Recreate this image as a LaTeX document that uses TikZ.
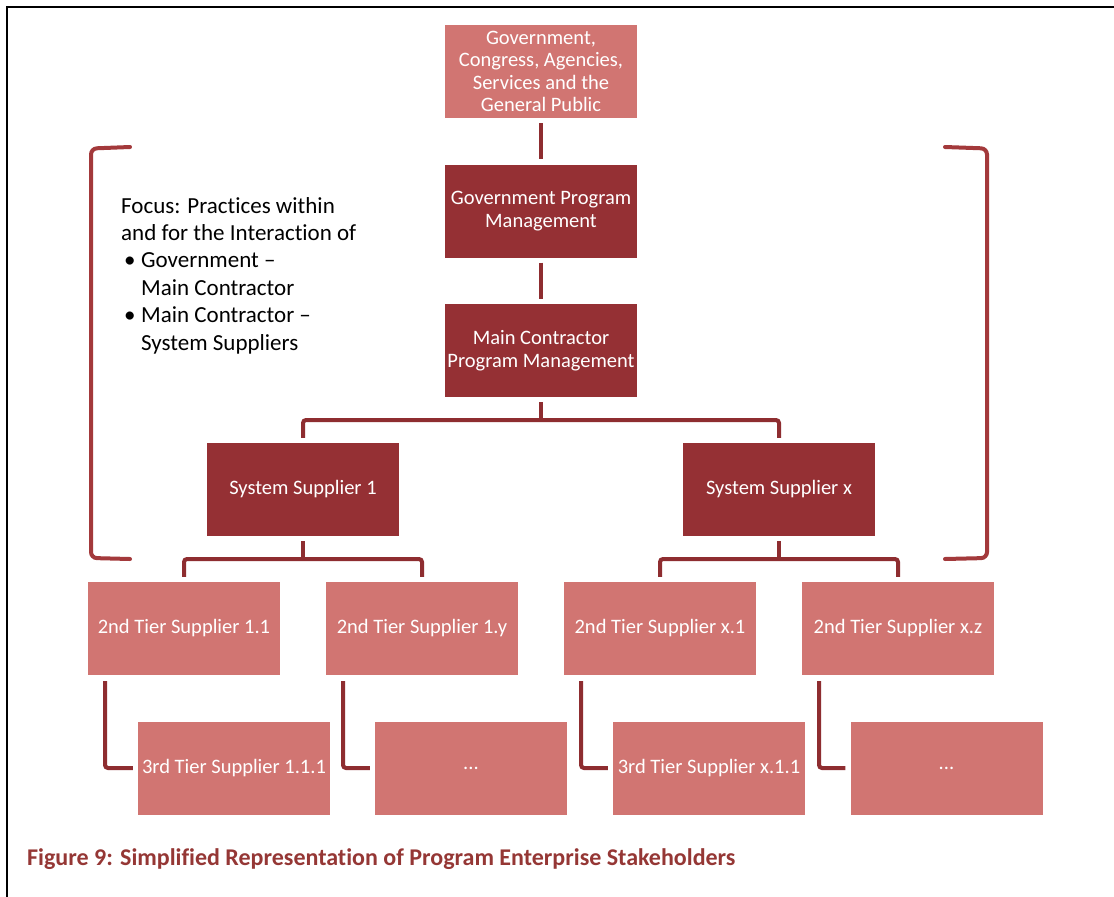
\documentclass[tikz,border=0pt]{standalone}
\usepackage{fontspec}
\setmainfont[Ligatures={NoCommon}]{Carlito}
\definecolor{lightred}{HTML}{D17572}
\definecolor{darkred}{HTML}{953034}
\definecolor{linered}{HTML}{8E2D30}
\definecolor{brackred}{HTML}{A3393B}
\definecolor{captred}{HTML}{953735}
\begin{document}
\begin{tikzpicture}[x=1pt,y=-1pt,
  box/.style={minimum width=192pt, minimum height=93pt, inner sep=0pt, text=white,
    font=\fontsize{20.5}{22.5}\selectfont, align=center},
  lbox/.style={box, fill=lightred},
  dbox/.style={box, fill=darkred},
  conn/.style={draw=linered, line width=4pt, rounded corners=3pt},
  brack/.style={draw=brackred, line width=4pt, rounded corners=6pt, line cap=round}]
\useasboundingbox (0,0) rectangle (1114,897);
\fill[white] (0,0) rectangle (1114,897);
\draw[line width=2.5pt] (7,897) -- (7,7) -- (1114,7);

% boxes
\node[lbox] (top) at (541,71.5) {Government,\\Congress, Agencies,\\Services and the\\General Public};
\node[dbox] (gov) at (541,211) {Government Program\\Management};
\node[dbox] (mc) at (541,350.5) {Main Contractor\\Program Management};
\node[dbox] (ss1) at (303,489.5) {System Supplier 1};
\node[dbox] (ssx) at (779,489.5) {System Supplier x};
\node[lbox] (t21) at (184,628.5) {2nd Tier Supplier 1.1};
\node[lbox] (t2y) at (422,628.5) {2nd Tier Supplier 1.y};
\node[lbox] (tx1) at (660,628.5) {2nd Tier Supplier x.1};
\node[lbox] (txz) at (898,628.5) {2nd Tier Supplier x.z};
\node[lbox] (t31) at (234,768) {3rd Tier Supplier 1.1.1};
\node[lbox] (t3a) at (471,768) {...};
\node[lbox] (t3x) at (709,768) {3rd Tier Supplier x.1.1};
\node[lbox] (t3b) at (946.5,768) {...};

% connectors
\draw[conn] ([yshift=-5pt]top.south) -- ([yshift=5pt]gov.north);
\draw[conn] ([yshift=-5pt]gov.south) -- ([yshift=5pt]mc.north);
\coordinate (b1) at (541,420);
\draw[conn] ([yshift=-5pt]mc.south) -- (b1);
\draw[conn] ([yshift=5pt]ss1.north) |- (b1) -| ([yshift=5pt]ssx.north);
\coordinate (b2) at (303,559);
\draw[conn] ([yshift=-5pt]ss1.south) -- (b2);
\draw[conn] ([yshift=5pt]t21.north) |- (b2) -| ([yshift=5pt]t2y.north);
\coordinate (b3) at (779,559);
\draw[conn] ([yshift=-5pt]ssx.south) -- (b3);
\draw[conn] ([yshift=5pt]tx1.north) |- (b3) -| ([yshift=5pt]txz.north);
\draw[conn] ([xshift=-79pt,yshift=-6pt]t21.south) |- ([xshift=-5pt]t31.west);
\draw[conn] ([xshift=-79pt,yshift=-6pt]t2y.south) |- ([xshift=-5pt]t3a.west);
\draw[conn] ([xshift=-79pt,yshift=-6pt]tx1.south) |- ([xshift=-5pt]t3x.west);
\draw[conn] ([xshift=-79pt,yshift=-6pt]txz.south) |- ([xshift=-5pt]t3b.west);

% brackets
\draw[brack] (130,147) -- (91,148.5) -- (91,558) -- (130,559);
\draw[brack] (945,147) -- (987,148.5) -- (987,558) -- (945,559);

% focus text
\node[anchor=west, align=left, inner sep=0pt, font=\fontsize{23}{27.4}\selectfont] (focus) at (121,275.5)
 {Focus: Practices within\\
  and for the Interaction of\\
  \makebox[20pt][l]{\hspace{3pt}\textbullet}Government –\\
  \hspace{20pt}Main Contractor\\
  \makebox[20pt][l]{\hspace{3pt}\textbullet}Main Contractor –\\
  \hspace{20pt}System Suppliers};

% caption
\node[anchor=base west, inner sep=0pt, text=captred, font=\bfseries\fontsize{24}{28}\selectfont] (cap) at (27,865)
 {Figure 9: Simplified Representation of Program Enterprise Stakeholders};
\end{tikzpicture}
\end{document}
